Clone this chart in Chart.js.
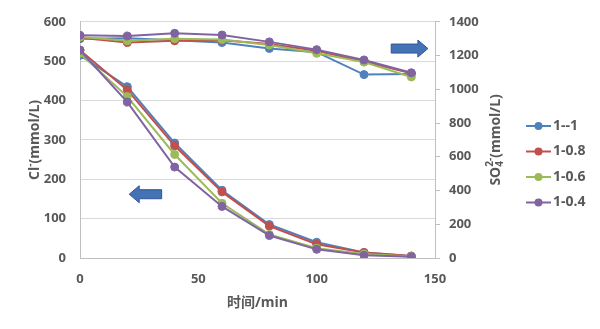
<!DOCTYPE html>
<html>
<head>
<meta charset="utf-8">
<script src="https://cdn.jsdelivr.net/npm/chart.js@4/dist/chart.umd.min.js"></script>
<style>
  html, body { margin: 0; padding: 0; background: #fff; }
  #wrap { width: 600px; height: 329px; position: relative; }
</style>
</head>
<body>
<div id="wrap"><canvas id="chart"></canvas></div>
<script>
    // time axis (min)
    var time = [0, 20, 40, 60, 80, 100, 120, 140];
    var names = ["1--1", "1-0.8", "1-0.6", "1-0.4"];
    var colors = ['#4F81BD', '#C0504D', '#9BBB59', '#8064A2'];

    // Cl- (left axis, mmol/L)
    var cl_1_1  = [515, 435, 292, 172, 85, 40, 14, 5];
    var cl_1_08 = [528, 427, 285, 168, 81, 35, 14, 5];
    var cl_1_06 = [520, 410, 263, 139, 60, 25, 10, 4];
    var cl_1_04 = [528, 396, 231, 131, 57, 22, 7, 3];

    // SO4 2- (right axis, mmol/L)
    var so4_1_1  = [1300, 1302, 1291, 1277, 1242, 1220, 1087, 1090];
    var so4_1_08 = [1305, 1277, 1287, 1291, 1268, 1228, 1165, 1095];
    var so4_1_06 = [1310, 1287, 1300, 1295, 1262, 1213, 1161, 1073];
    var so4_1_04 = [1320, 1316, 1332, 1322, 1281, 1235, 1174, 1098];

    var xTicks = [0, 50, 100, 150];
    var clTicks = [0, 100, 200, 300, 400, 500, 600];
    var so4Ticks = [0, 200, 400, 600, 800, 1000, 1200, 1400];

    var clSeries = [cl_1_1, cl_1_08, cl_1_06, cl_1_04];
    var so4Series = [so4_1_1, so4_1_08, so4_1_06, so4_1_04];

    var fontFamily = '"Open Sans", "Noto Sans CJK SC", sans-serif';
    var textColor = '#595959';

    function pts(values) {
        return time.map(function (t, i) { return { x: t, y: values[i] }; });
    }

    var datasets = [];
    names.forEach(function (name, i) {
        datasets.push({
            label: name, data: pts(clSeries[i]), yAxisID: 'y',
            borderColor: colors[i], backgroundColor: colors[i],
            borderWidth: 2, pointRadius: 4, pointBorderWidth: 1,
            order: 10 - i
        });
        datasets.push({
            label: name, data: pts(so4Series[i]), yAxisID: 'y1',
            borderColor: colors[i], backgroundColor: colors[i],
            borderWidth: 2, pointRadius: 4, pointBorderWidth: 1,
            order: 10 - i
        });
    });

    function drawArrow(ctx, xTail, xHead, y) {
        var dir = xHead > xTail ? 1 : -1;
        var headLen = 10, bodyH = 4.5, headH = 8.5;
        var xNeck = xHead - dir * headLen;
        ctx.save();
        ctx.beginPath();
        ctx.moveTo(xTail, y - bodyH);
        ctx.lineTo(xNeck, y - bodyH);
        ctx.lineTo(xNeck, y - headH);
        ctx.lineTo(xHead, y);
        ctx.lineTo(xNeck, y + headH);
        ctx.lineTo(xNeck, y + bodyH);
        ctx.lineTo(xTail, y + bodyH);
        ctx.closePath();
        ctx.fillStyle = '#4472B4';
        ctx.fill();
        ctx.strokeStyle = '#2F5597';
        ctx.lineWidth = 1;
        ctx.stroke();
        ctx.restore();
    }

    // rotated axis title; parts in the same group share one x slot (sub + sup)
    function drawVTitle(ctx, cx, cy, groups) {
        ctx.save();
        ctx.translate(cx, cy);
        ctx.rotate(-Math.PI / 2);
        var total = 0;
        groups.forEach(function (g) {
            g.w = 0;
            g.forEach(function (p) {
                ctx.font = 'bold ' + (p.small ? 10 : 14) + 'px ' + fontFamily;
                g.w = Math.max(g.w, ctx.measureText(p.t).width);
            });
            total += g.w;
        });
        var x = -total / 2;
        ctx.fillStyle = textColor;
        ctx.textBaseline = 'middle';
        ctx.textAlign = 'left';
        groups.forEach(function (g) {
            g.forEach(function (p) {
                ctx.font = 'bold ' + (p.small ? 10 : 14) + 'px ' + fontFamily;
                ctx.fillText(p.t, x, p.dy || 0);
            });
            x += g.w;
        });
        ctx.restore();
    }

    var extras = {
        id: 'extras',
        afterDatasetsDraw: function (chart) {
            var ctx = chart.ctx, sx = chart.scales.x, sy = chart.scales.y;
            drawArrow(ctx, sx.getPixelForValue(131.5), sx.getPixelForValue(147), sy.getPixelForValue(532));
            drawArrow(ctx, sx.getPixelForValue(34.5), sx.getPixelForValue(20.8), sy.getPixelForValue(162));
        },
        afterDraw: function (chart) {
            var ctx = chart.ctx, area = chart.chartArea;
            var cy = (area.top + area.bottom) / 2;
            drawVTitle(ctx, 35, cy, [
                [{ t: 'Cl' }], [{ t: '-', small: true, dy: -5 }], [{ t: '(mmol/L)' }]
            ]);
            drawVTitle(ctx, chart.scales.y1.right - 13, cy, [
                [{ t: 'SO' }],
                [{ t: '4', small: true, dy: 4 }, { t: '2-', small: true, dy: -6 }],
                [{ t: '(mmol/L)' }]
            ]);
            // legend
            ctx.save();
            names.forEach(function (name, i) {
                var y = 126 + i * 25.5;
                ctx.strokeStyle = colors[i];
                ctx.lineWidth = 2;
                ctx.beginPath();
                ctx.moveTo(526, y);
                ctx.lineTo(551, y);
                ctx.stroke();
                ctx.fillStyle = colors[i];
                ctx.beginPath();
                ctx.arc(538.5, y, 4, 0, Math.PI * 2);
                ctx.fill();
                ctx.fillStyle = textColor;
                ctx.font = 'bold 14px ' + fontFamily;
                ctx.textBaseline = 'middle';
                ctx.textAlign = 'left';
                ctx.fillText(name, 553, y);
            });
            ctx.restore();
        }
    };

    function plain(v) { return String(v); }

    var ctx = document.getElementById('chart');
    var chart = new Chart(ctx, {
        type: 'line',
        data: { datasets: datasets },
        plugins: [extras],
        options: {
            responsive: true,
            maintainAspectRatio: false,
            animation: false,
            layout: { padding: { left: 10, right: 91, top: 19, bottom: 18 } },
            plugins: {
                legend: { display: false },
                tooltip: { enabled: false }
            },
            scales: {
                x: {
                    type: 'linear', min: 0, max: 150,
                    afterBuildTicks: function (s) { s.ticks = xTicks.map(function (v) { return { value: v }; }); },
                    afterFit: function (s) { s.height = 53; },
                    grid: { display: false },
                    border: { display: true, color: '#bfbfbf' },
                    ticks: { color: textColor, padding: 5, font: { family: fontFamily, size: 13, weight: 'bold' }, callback: plain },
                    title: {
                        display: true, text: '时间/min', color: textColor,
                        padding: { top: 4, bottom: 0 },
                        font: { family: fontFamily, size: 14, weight: 'bold' }
                    }
                },
                y: {
                    position: 'left', min: 0, max: 600,
                    afterBuildTicks: function (s) { s.ticks = clTicks.map(function (v) { return { value: v }; }); },
                    afterFit: function (s) { s.width = 70; },
                    grid: { color: '#d9d9d9', drawTicks: false },
                    border: { display: true, color: '#bfbfbf' },
                    ticks: { color: textColor, padding: 14, font: { family: fontFamily, size: 13, weight: 'bold' }, callback: plain }
                },
                y1: {
                    position: 'right', min: 0, max: 1400,
                    afterBuildTicks: function (s) { s.ticks = so4Ticks.map(function (v) { return { value: v }; }); },
                    afterFit: function (s) { s.width = 74; },
                    grid: { drawOnChartArea: false, drawTicks: true, tickLength: 5, color: '#bfbfbf' },
                    border: { display: true, color: '#bfbfbf' },
                    ticks: { color: textColor, padding: 9, font: { family: fontFamily, size: 13, weight: 'bold' }, callback: plain }
                }
            }
        }
    });
</script>
</body>
</html>
